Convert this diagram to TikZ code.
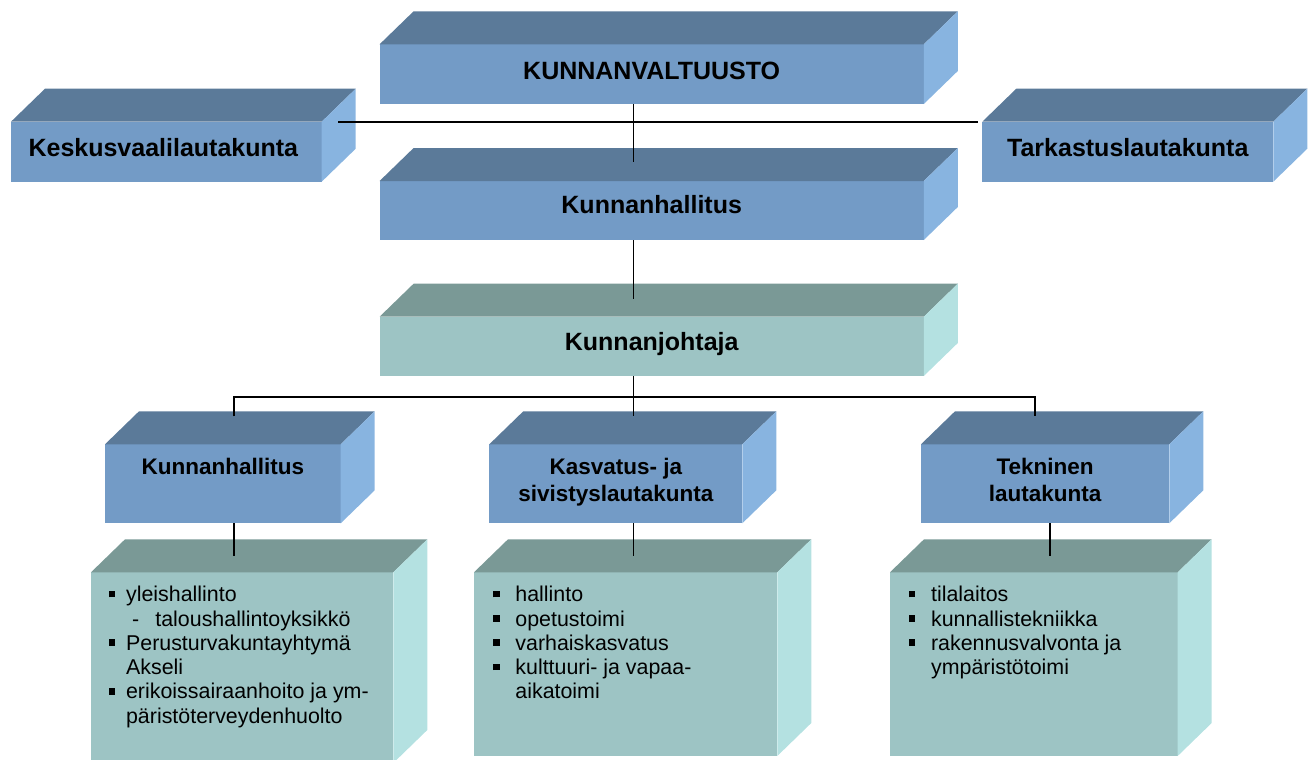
\documentclass[tikz,border=0pt]{standalone}
\usepackage{fontspec}
\setmainfont{Liberation Sans}
\usetikzlibrary{fit,calc}
\definecolor{bfront}{RGB}{115,155,198}
\definecolor{btop}{RGB}{91,122,153}
\definecolor{bside}{RGB}{136,180,224}
\definecolor{tfront}{RGB}{157,196,196}
\definecolor{ttop}{RGB}{122,153,150}
\definecolor{tside}{RGB}{180,225,225}
\newcommand{\threed}[3]{%
  \fill[#2] (#1.north west) -- ++(34,-33) -- ($(#1.north east)+(34,-33)$) -- (#1.north east) -- cycle;
  \fill[#3] (#1.north east) -- ++(34,-33) -- ($(#1.south east)+(34,-33)$) -- (#1.south east) -- cycle;
}
\newcommand{\bul}[1]{\leavevmode\llap{\rule[2.2pt]{3.3pt}{3.3pt}\hspace{#1}}}
\newcommand{\fbig}{\fontsize{12.5}{15}\selectfont\bfseries}
\newcommand{\fmid}{\fontsize{11.25}{13.35}\selectfont\bfseries}
\newcommand{\fbody}{\fontsize{10.7}{12.15}\selectfont}
\tikzset{
  front/.style={fill=#1, inner sep=0pt, outer sep=0pt, draw=none},
  ttl/.style={anchor=base, inner sep=0pt, font=\fbig},
  ttltwo/.style={anchor=base, inner sep=0pt},
  listbox/.style={anchor=base west, inner sep=0pt},
  conn/.style={draw=black, line width=0.9pt}
}
\begin{document}
\begin{tikzpicture}[x=0.5pt,y=-0.5pt]
\useasboundingbox (0,0) rectangle (1314,760);
% upper boxes
\node[front=bfront, fit={(379.6,44.3) (923.8,104)}] (valt) {};
\threed{valt}{btop}{bside}
\node[front=bfront, fit={(379.6,181) (923.8,240)}] (kh) {};
\threed{kh}{btop}{bside}
\node[front=tfront, fit={(379.6,316.7) (923.8,376)}] (kj) {};
\threed{kj}{ttop}{tside}
\node[front=bfront, fit={(11,121.7) (321.7,181.7)}] (kesk) {};
\threed{kesk}{btop}{bside}
\node[front=bfront, fit={(982.3,121.7) (1273.3,181.7)}] (tark) {};
\threed{tark}{btop}{bside}
% lower title boxes
\node[front=bfront, fit={(105,444.3) (340.7,523.3)}] (khL) {};
\threed{khL}{btop}{bside}
\node[front=bfront, fit={(489.3,444.3) (742.3,523.3)}] (kas) {};
\threed{kas}{btop}{bside}
\node[front=bfront, fit={(921,444.3) (1169.3,523.3)}] (tek) {};
\threed{tek}{btop}{bside}
% content boxes
\node[front=tfront, fit={(91,572.3) (393.3,763)}] (c1) {};
\threed{c1}{ttop}{tside}
\node[front=tfront, fit={(474,572.3) (777.3,756)}] (c2) {};
\threed{c2}{ttop}{tside}
\node[front=tfront, fit={(890,572.3) (1177.7,756)}] (c3) {};
\threed{c3}{ttop}{tside}
% connectors
\coordinate (trunk) at (633.5,0);
\coordinate (jL) at (234,397);
\coordinate (jM) at (633.5,397);
\coordinate (jR) at (1035,397);
\draw[conn] (valt.south -| trunk) -- ($(kh.north -| trunk)+(0,-19)$);
\draw[conn] ($(kesk.north east)+(16.5,0)$) -- ($(tark.north west)+(-4,0)$);
\draw[conn] (kh.south -| trunk) -- ($(kj.north -| trunk)+(0,-18)$);
\draw[conn] (kj.south -| trunk) -- (jM);
\draw[conn] ($(khL.north -| jL)+(0,-28)$) -- (jL) -- (jR) -- ($(tek.north -| jR)+(0,-28)$);
\draw[conn] (jM) -- ($(kas.north -| jM)+(0,-28)$);
\draw[conn] (khL.south -| jL) -- ($(c1.north -| jL)+(0,-16)$);
\draw[conn] (kas.south -| jM) -- ($(c2.north -| jM)+(0,-16)$);
\coordinate (jT) at (1050.3,0);
\draw[conn] (tek.south -| jT) -- ($(c3.north -| jT)+(0,-16)$);
% titles
\node[ttl] (valtT) at ($(valt.center)+(0,5)$) {KUNNANVALTUUSTO};
\node[ttl] (khT) at ($(kh.center)+(0,3)$) {Kunnanhallitus};
\node[ttl] (kjT) at ($(kj.center)+(0,4)$) {Kunnanjohtaja};
\node[ttl] (keskT) at ($(kesk.center)+(-3,5)$) {Keskusvaalilautakunta};
\node[ttl] (tarkT) at ($(tark.center)+(0,5)$) {Tarkastuslautakunta};
\node[ttltwo] (khLT) at ($(khL.north)+(0,30.5)$) {\parbox[t]{120pt}{\centering\fmid Kunnanhallitus}};
\node[ttltwo] (kasT) at ($(kas.north)+(0,30)$) {\parbox[t]{120pt}{\centering\fmid Kasvatus- ja\\sivistyslautakunta}};
\node[ttltwo] (tekT) at ($(tek.north)+(0,30)$) {\parbox[t]{120pt}{\centering\fmid Tekninen\\lautakunta}};
% lists
\node[listbox] (l1) at ($(c1.north west)+(34.7,29.4)$) {\parbox[t]{150pt}{\raggedright\fbody
\bul{5.35pt}yleishallinto\\
\hspace*{3pt}\makebox[11.65pt][l]{-}taloushallintoyksikkö\\
\bul{5.35pt}Perusturvakuntayhtymä\\
Akseli\\
\bul{5.35pt}erikoissairaanhoito ja ym-\\
päristöterveydenhuolto}};
\node[listbox] (l2) at ($(c2.north west)+(41,29.4)$) {\parbox[t]{150pt}{\raggedright\fbody
\bul{7.85pt}hallinto\\
\bul{7.85pt}opetustoimi\\
\bul{7.85pt}varhaiskasvatus\\
\bul{7.85pt}kulttuuri- ja vapaa-\\
aikatoimi}};
\node[listbox] (l3) at ($(c3.north west)+(40.7,29.4)$) {\parbox[t]{150pt}{\raggedright\fbody
\bul{7.85pt}tilalaitos\\
\bul{7.85pt}kunnallistekniikka\\
\bul{7.85pt}rakennusvalvonta ja\\
ympäristötoimi}};
\end{tikzpicture}
\end{document}
